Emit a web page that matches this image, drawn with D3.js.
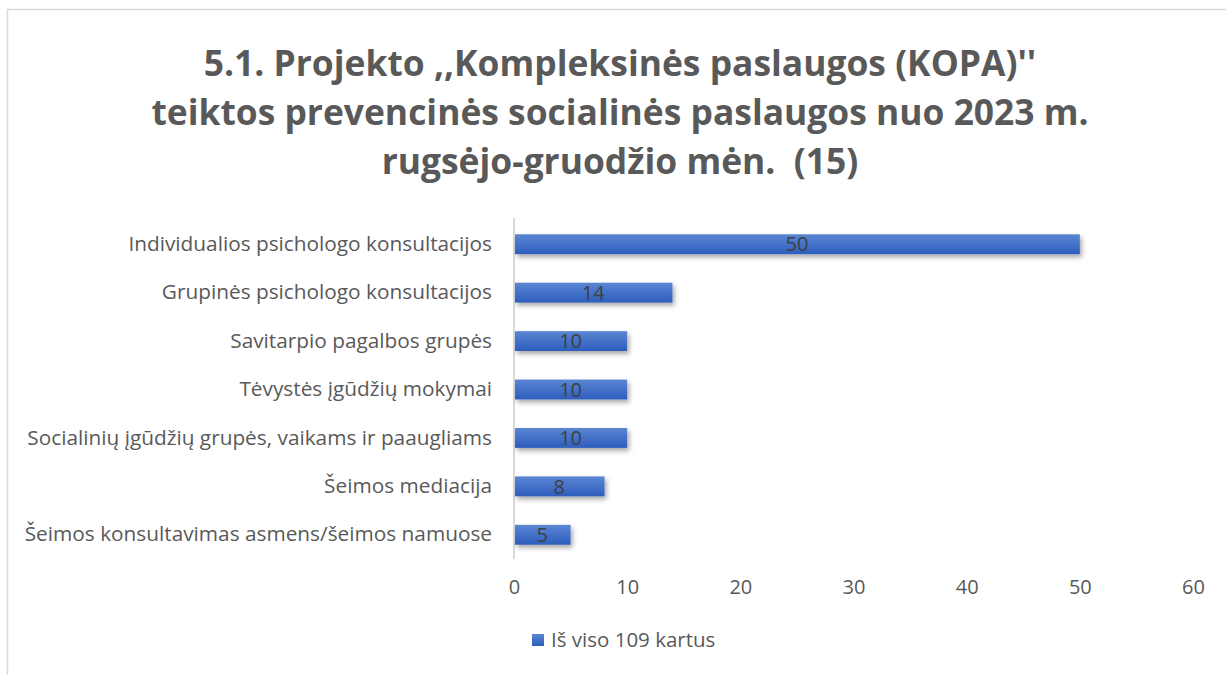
<!DOCTYPE html>
<html lang="lt">
<head>
<meta charset="UTF-8">
<title>KOPA paslaugos</title>
<script src="https://d3js.org/d3.v7.min.js"></script>
<style>
  body { margin: 0; background: #fff; }
  svg { display: block; font-family: "Open Sans", "Noto Sans", sans-serif; }
</style>
</head>
<body>
<div id="chart"></div>
<script>
const categories = [
  "Individualios psichologo konsultacijos",
  "Grupinės psichologo konsultacijos",
  "Savitarpio pagalbos grupės",
  "Tėvystės įgūdžių mokymai",
  "Socialinių įgūdžių grupės, vaikams ir paaugliams",
  "Šeimos mediacija",
  "Šeimos konsultavimas asmens/šeimos namuose"
];
const values = [50, 14, 10, 10, 10, 8, 5];
const xTicks = [0, 10, 20, 30, 40, 50, 60];
const titleLines = [
  "5.1. Projekto ,,Kompleksinės paslaugos (KOPA)''",
  "teiktos prevencinės socialinės paslaugos nuo 2023 m.",
  "rugsėjo-gruodžio mėn.  (15)"
];
const seriesName = "Iš viso 109 kartus";

const width = 1226, height = 675;
const marginLeft = 514, marginRight = 33, plotTop = 220, plotBottom = 559;

const svg = d3.select("#chart").append("svg")
  .attr("width", width).attr("height", height);

const defs = svg.append("defs");
const grad = defs.append("linearGradient").attr("id", "barGrad")
  .attr("x1", 0).attr("y1", 0).attr("x2", 0).attr("y2", 1);
grad.append("stop").attr("offset", "0%").attr("stop-color", "#5b86d3");
grad.append("stop").attr("offset", "100%").attr("stop-color", "#2d5dbd");

const shadow = defs.append("filter").attr("id", "shadow")
  .attr("x", "-10%").attr("y", "-50%").attr("width", "130%").attr("height", "250%");
shadow.append("feDropShadow").attr("dx", 2).attr("dy", 3).attr("stdDeviation", 2.5)
  .attr("flood-color", "#000").attr("flood-opacity", 0.35);

// chart frame
svg.append("rect").attr("x", 7.5).attr("y", 9.5)
  .attr("width", width).attr("height", height)
  .attr("fill", "none").attr("stroke", "#d9d9d9").attr("stroke-width", 1.5);

// title
svg.append("text")
  .attr("text-anchor", "middle")
  .attr("fill", "#595959")
  .attr("font-size", 35.4).attr("font-weight", "bold")
  .style("white-space", "pre")
  .selectAll("tspan").data(titleLines).join("tspan")
  .attr("x", 620)
  .attr("y", (d, i) => 76 + i * 49)
  .text(d => d);

const x = d3.scaleLinear().domain([0, 60]).range([marginLeft, width - marginRight]);
const y = d3.scaleBand().domain(categories).range([plotTop, plotBottom]).paddingInner(0.59).paddingOuter(0.295);

// vertical axis line
svg.append("line")
  .attr("x1", x(0)).attr("x2", x(0))
  .attr("y1", plotTop - 2).attr("y2", plotBottom)
  .attr("stroke", "#d9d9d9").attr("stroke-width", 2);

// bars
svg.append("g").selectAll("rect").data(values).join("rect")
  .attr("x", x(0) + 1)
  .attr("y", (d, i) => y(categories[i]))
  .attr("width", d => x(d) - x(0) - 1)
  .attr("height", y.bandwidth())
  .attr("fill", "url(#barGrad)")
  .attr("filter", "url(#shadow)");

// value labels
svg.append("g").selectAll("text").data(values).join("text")
  .attr("x", d => (x(0) + x(d)) / 2)
  .attr("y", (d, i) => y(categories[i]) + y.bandwidth() / 2)
  .attr("dy", "0.36em")
  .attr("text-anchor", "middle")
  .attr("fill", "#404040")
  .attr("font-size", 20)
  .text(d => d);

// category labels
const yAxis = d3.axisLeft(y).tickSize(0).tickPadding(22);
const yg = svg.append("g").attr("transform", `translate(${x(0)},0)`).call(yAxis);
yg.select(".domain").remove();
yg.selectAll("text").attr("fill", "#595959").attr("font-size", 20.8)
  .attr("font-family", "'Open Sans', sans-serif");

// x axis
const xAxis = d3.axisBottom(x).tickValues(xTicks).tickSize(0).tickPadding(0);
const xg = svg.append("g").attr("transform", `translate(0,${plotBottom + 21})`).call(xAxis);
xg.select(".domain").remove();
xg.selectAll("text").attr("fill", "#595959").attr("font-size", 20)
  .attr("font-family", "'Open Sans', sans-serif");

// legend
const lg = svg.append("g").attr("transform", "translate(532,634)");
lg.append("rect").attr("width", 12).attr("height", 12).attr("fill", "url(#barGrad)");
lg.append("text").attr("x", 19).attr("y", 6).attr("dy", "0.36em")
  .attr("fill", "#595959").attr("font-size", 20.5).text(seriesName);
</script>
</body>
</html>
